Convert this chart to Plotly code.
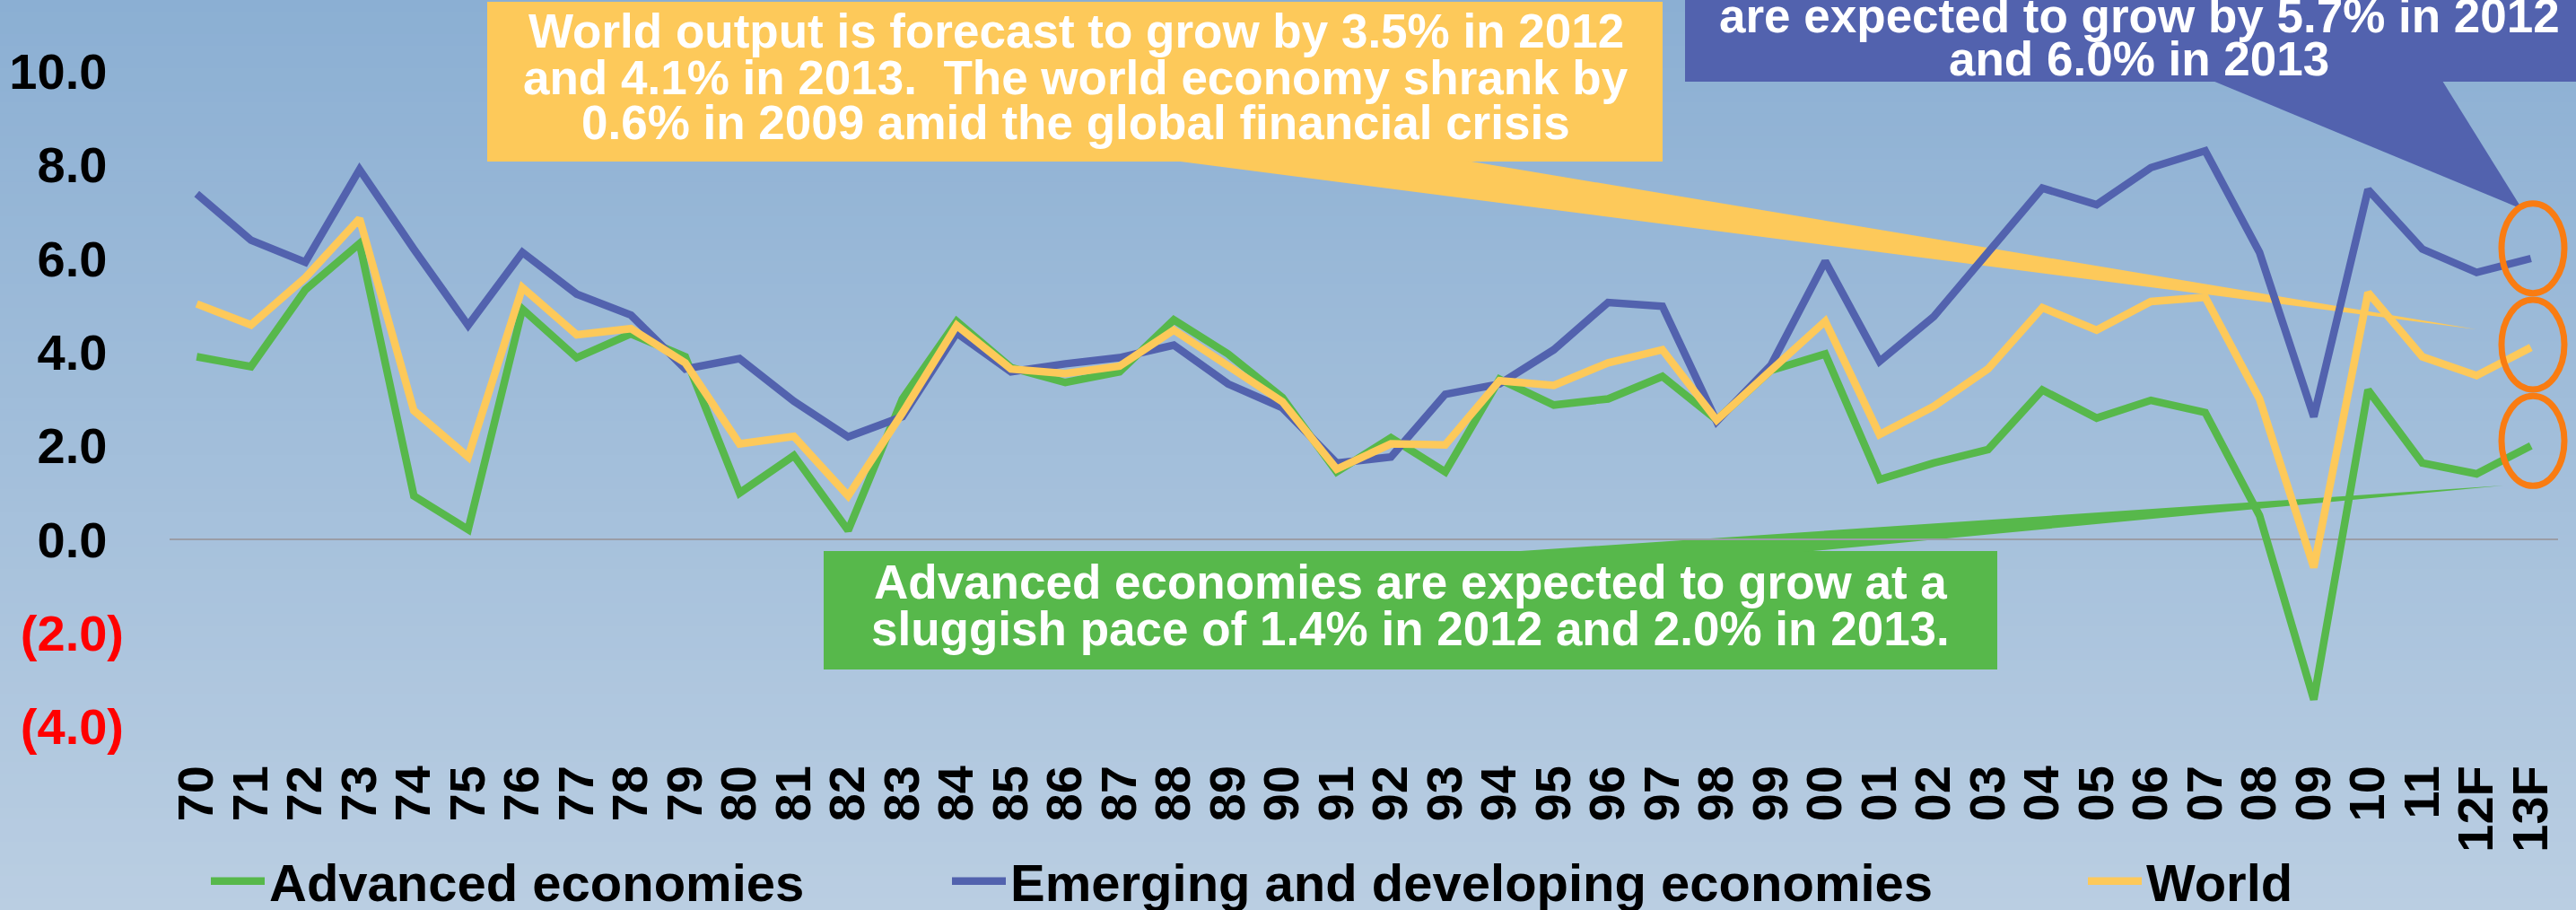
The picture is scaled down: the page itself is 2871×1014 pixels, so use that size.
import plotly.graph_objects as go

# ---------------- data ----------------
years = ["70", "71", "72", "73", "74", "75", "76", "77", "78", "79",
         "80", "81", "82", "83", "84", "85", "86", "87", "88", "89",
         "90", "91", "92", "93", "94", "95", "96", "97", "98", "99",
         "00", "01", "02", "03", "04", "05", "06", "07", "08", "09",
         "10", "11", "12F", "13F"]

advanced = [3.90, 3.69, 5.33, 6.32, 0.93, 0.21, 4.92, 3.88, 4.39, 3.90,
            0.99, 1.79, 0.19, 3.00, 4.66, 3.67, 3.35, 3.58, 4.69, 3.96,
            3.03, 1.44, 2.17, 1.44, 3.42, 2.87, 3.00, 3.48, 2.55, 3.61,
            3.96, 1.28, 1.63, 1.92, 3.19, 2.59, 2.97, 2.71, 0.51, -3.42,
            3.19, 1.63, 1.40, 2.00]

emerging = [7.38, 6.39, 5.92, 7.90, 6.20, 4.57, 6.13, 5.24, 4.79, 3.64,
            3.86, 2.95, 2.19, 2.62, 4.41, 3.58, 3.75, 3.88, 4.15, 3.32,
            2.81, 1.63, 1.76, 3.10, 3.32, 4.05, 5.06, 4.98, 2.52, 3.72,
            5.94, 3.80, 4.76, 6.15, 7.50, 7.15, 7.94, 8.30, 6.13, 2.62,
            7.47, 6.20, 5.70, 6.00]

world = [5.03, 4.58, 5.59, 6.85, 2.75, 1.76, 5.38, 4.37, 4.50, 3.77,
         2.04, 2.20, 0.93, 2.70, 4.57, 3.64, 3.54, 3.70, 4.47, 3.70,
         2.94, 1.50, 2.04, 2.02, 3.39, 3.29, 3.77, 4.05, 2.55, 3.61,
         4.66, 2.24, 2.84, 3.64, 4.95, 4.47, 5.08, 5.17, 3.00, -0.60,
         5.27, 3.90, 3.50, 4.10]

series_names = ["Advanced economies", "Emerging and developing economies", "World"]

PAD = "<span style='color:rgba(0,0,0,0)'>)</span>"
y_tick_values = [-4, -2, 0, 2, 4, 6, 8, 10]
y_tick_labels = ["<span style='color:#ff0000'>(4.0)</span>",
                 "<span style='color:#ff0000'>(2.0)</span>",
                 "0.0" + PAD, "2.0" + PAD, "4.0" + PAD, "6.0" + PAD,
                 "8.0" + PAD, "10.0" + PAD]

world_note = ["World output is forecast to grow by 3.5% in 2012",
              "and 4.1% in 2013.  The world economy shrank by",
              "0.6% in 2009 amid the global financial crisis"]
emerging_note = ["are expected to grow by 5.7% in 2012",
                 "and 6.0% in 2013"]
advanced_note = ["Advanced economies are expected to grow at a",
                 "sluggish pace of 1.4% in 2012 and 2.0% in 2013."]

# ---------------- layout geometry ----------------
W, H = 2871, 1014
ML, MR, MT, MB = 189, 20, 48, 173
PL, PR, PT, PB = ML, W - MR, MT, H - MB

GREEN = "#57b84b"
BLUE = "#5262ae"
YELLOW = "#fdc95a"
ORANGE = "#f97c12"
FONT = "Liberation Sans, Arial, sans-serif"


def px_x(px):
    return (px - PL) / (PR - PL)


def px_y(py):
    return (PB - py) / (PB - PT)


fig = go.Figure()

trace_colors = [GREEN, BLUE, YELLOW]
trace_values = [advanced, emerging, world]
legend_ids = ["legend", "legend2", "legend3"]
for name, vals, col, lg in zip(series_names, trace_values, trace_colors, legend_ids):
    fig.add_trace(go.Scatter(
        x=years, y=vals, mode="lines", name=name,
        line=dict(color=col, width=8.5),
        legend=lg, showlegend=True, hoverinfo="skip",
    ))

shapes = []
# background gradient
top_c = (139, 175, 211)
bot_c = (186, 206, 226)
N = 80
for i in range(N):
    y0 = H * i / N
    y1 = H * (i + 1) / N + 1
    t = (i + 0.5) / N
    c = tuple(int(round(a + (b - a) * t)) for a, b in zip(top_c, bot_c))
    shapes.append(dict(type="rect", xref="paper", yref="paper",
                       x0=px_x(-5), x1=px_x(W + 5), y0=px_y(y1), y1=px_y(y0),
                       fillcolor="rgb(%d,%d,%d)" % c, line=dict(width=0), layer="below"))


def poly(points, color):
    d = "M " + " L ".join("%.5f,%.5f" % (px_x(x), px_y(y)) for x, y in points) + " Z"
    return dict(type="path", xref="paper", yref="paper", path=d,
                fillcolor=color, line=dict(width=0), layer="below")


# callout boxes and pointers
shapes.append(poly([(543, 2), (1853, 2), (1853, 180), (543, 180)], YELLOW))
shapes.append(poly([(1308, 179), (1634, 179), (2760, 367)], YELLOW))
shapes.append(poly([(1878, -20), (2900, -20), (2900, 91), (1878, 91)], BLUE))
shapes.append(poly([(2466, 90), (2722, 90), (2811, 233)], BLUE))
shapes.append(poly([(918, 614), (2226, 614), (2226, 746), (918, 746)], GREEN))
shapes.append(poly([(1680, 615), (2010, 615), (2790, 541)], GREEN))

# orange ellipses around the forecasts
for cy in (276.7, 384.0, 491.3):
    shapes.append(dict(type="circle", xref="paper", yref="paper",
                       x0=px_x(2788), x1=px_x(2858), y0=px_y(cy + 50), y1=px_y(cy - 50),
                       line=dict(color=ORANGE, width=7), fillcolor="rgba(0,0,0,0)",
                       layer="above"))

annotations = []


def add_lines(lines, cx, ys):
    for txt, cy in zip(lines, ys):
        annotations.append(dict(
            text=txt, xref="paper", yref="paper", x=px_x(cx), y=px_y(cy),
            xanchor="center", yanchor="middle", showarrow=False,
            font=dict(family=FONT, size=53, color="white", weight="bold")))


add_lines(world_note, 1199, [35, 86, 137])
add_lines(emerging_note, 2384, [17, 65])
add_lines(advanced_note, 1572, [648, 700])

legend_common = dict(orientation="h", yanchor="middle", xanchor="left",
                     bgcolor="rgba(0,0,0,0)", borderwidth=0,
                     font=dict(family=FONT, size=58, color="black", weight="bold"),
                     itemwidth=60)
legend_x = [230, 1056, 2322]

fig.update_layout(
    width=W, height=H,
    margin=dict(l=ML, r=MR, t=MT, b=MB, autoexpand=False),
    paper_bgcolor="rgb(163,191,219)",
    plot_bgcolor="rgba(0,0,0,0)",
    shapes=shapes,
    annotations=annotations,
    legend=dict(x=px_x(legend_x[0]), y=px_y(982), **legend_common),
    legend2=dict(x=px_x(legend_x[1]), y=px_y(982), **legend_common),
    legend3=dict(x=px_x(legend_x[2]), y=px_y(982), **legend_common),
    xaxis=dict(
        type="category", range=[-0.5, 43.5], showgrid=False, zeroline=False,
        showline=False, ticks="", tickangle=-90, automargin=False,
        tickmode="array", tickvals=years, ticktext=years,
        tickfont=dict(family=FONT, size=56, color="black", weight="bold"),
    ),
    yaxis=dict(
        range=[-4.6, 10.6], showgrid=False, zeroline=True,
        zerolinecolor="#9a9da6", zerolinewidth=2, showline=False, ticks="",
        tickmode="array", tickvals=y_tick_values, ticktext=y_tick_labels,
        ticklabelstandoff=50, automargin=False,
        tickfont=dict(family=FONT, size=56, color="black", weight="bold"),
    ),
)

fig.write_html("out.html")
